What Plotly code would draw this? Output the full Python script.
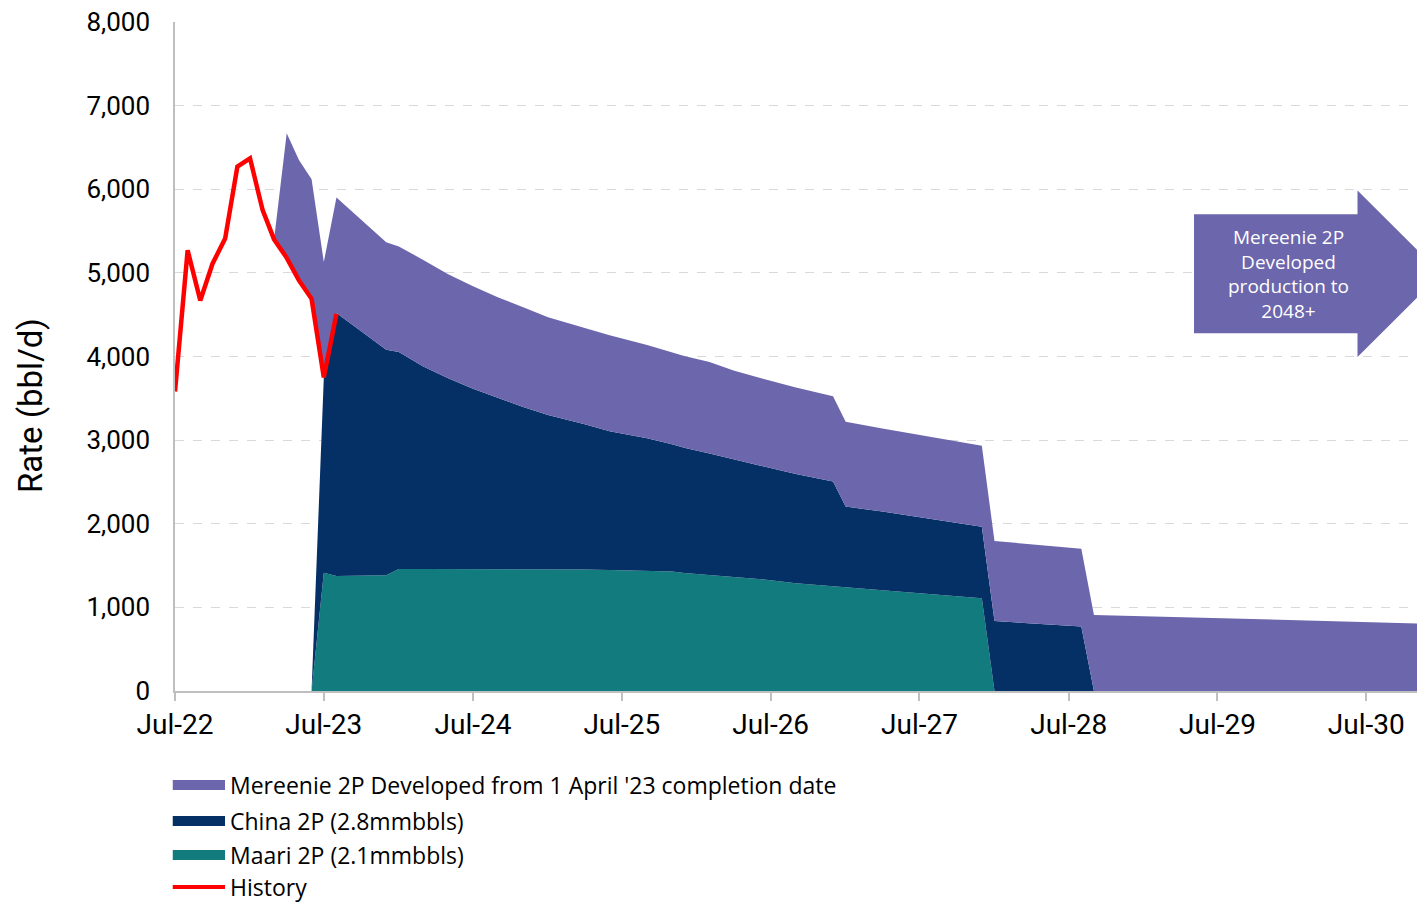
import plotly.graph_objects as go

# ---------------- data ----------------
hist_dates = ["2022-07-01", "2022-08-01", "2022-09-01", "2022-10-01", "2022-11-01",
              "2022-12-01", "2023-01-01", "2023-02-01", "2023-03-01", "2023-04-01",
              "2023-05-01", "2023-06-01", "2023-07-01", "2023-08-01"]
history = [3580, 5270, 4670, 5110, 5410, 6270, 6370, 5750, 5400, 5180, 4910, 4690, 3750, 4510]

fc_dates = ["2023-03-01", "2023-04-01", "2023-05-01", "2023-06-01", "2023-07-01",
            "2023-08-01", "2023-12-01", "2024-01-01", "2024-03-01", "2024-05-01",
            "2024-07-01", "2024-09-01", "2024-11-01", "2025-01-01", "2025-04-01",
            "2025-06-01", "2025-09-01", "2025-11-01", "2025-12-01", "2026-02-01",
            "2026-03-01", "2026-04-01", "2026-06-01", "2026-09-01", "2026-12-01",
            "2027-01-01", "2027-04-01", "2027-12-01", "2028-01-01", "2028-08-01",
            "2028-09-01", "2029-07-01", "2030-12-01"]
maari = [0, 0, 0, 0, 1415, 1375, 1385, 1460, 1460, 1460, 1460, 1460, 1458, 1455, 1452,
         1448, 1440, 1428, 1410, 1385, 1372, 1362, 1340, 1288, 1250, 1240, 1205, 1110,
         0, 0, 0, 0, 0]
china = [0, 0, 0, 0, 2330, 3145, 2695, 2595, 2420, 2280, 2155, 2040, 1937, 1845, 1738,
         1657, 1582, 1524, 1500, 1455, 1438, 1409, 1360, 1307, 1254, 965, 940, 855,
         837, 770, 0, 0, 0]
mereenie = [0, 1490, 1440, 1430, 1385, 1380, 1285, 1260, 1275, 1244, 1225, 1205, 1195,
            1170, 1150, 1150, 1117, 1103, 1095, 1095, 1075, 1061, 1048, 1035, 1021, 1016,
            995, 969, 957, 930, 909, 869, 805]
# Mereenie increment sits on top of the history line before the new fields start
base = history[8:12] + [0] * (len(fc_dates) - 4)

tick_vals = ["2022-07-01", "2023-07-01", "2024-07-01", "2025-07-01", "2026-07-01",
             "2027-07-01", "2028-07-01", "2029-07-01", "2030-07-01"]
tick_text = ["Jul-22", "Jul-23", "Jul-24", "Jul-25", "Jul-26", "Jul-27", "Jul-28",
             "Jul-29", "Jul-30"]

legend_names = ["Mereenie 2P Developed from 1 April '23 completion date",
                "China 2P (2.8mmbbls)", "Maari 2P (2.1mmbbls)", "History"]

PURPLE = "#6C66AC"
NAVY = "#043066"
TEAL = "#127B7D"
RED = "#FF0000"
FONT = "Roboto"
LFONT = "Open Sans"

fig = go.Figure()
fig.add_trace(go.Scatter(x=fc_dates, y=maari, name=legend_names[2], stackgroup="s",
                         mode="lines", line=dict(width=0, color=TEAL), fillcolor=TEAL))
fig.add_trace(go.Scatter(x=fc_dates, y=china, name=legend_names[1], stackgroup="s",
                         mode="lines", line=dict(width=0, color=NAVY), fillcolor=NAVY))
fig.add_trace(go.Scatter(x=fc_dates, y=base, name="base", stackgroup="s", mode="lines",
                         line=dict(width=0, color="rgba(0,0,0,0)"),
                         fillcolor="rgba(0,0,0,0)", hoverinfo="skip"))
fig.add_trace(go.Scatter(x=fc_dates, y=mereenie, name=legend_names[0], stackgroup="s",
                         mode="lines", line=dict(width=0, color=PURPLE), fillcolor=PURPLE))
fig.add_trace(go.Scatter(x=hist_dates, y=history, name=legend_names[3], mode="lines",
                         line=dict(color=RED, width=4.5)))

# arrow callout (paper coordinates)
fig.add_shape(type="path", xref="paper", yref="paper",
              path="M 0.8152,0.7125 L 0.946,0.7125 L 0.946,0.7481 L 1.0128,0.6236 "
                   "L 0.946,0.4993 L 0.946,0.5347 L 0.8152,0.5347 Z",
              fillcolor=PURPLE, line=dict(width=0), layer="above")
fig.add_annotation(xref="paper", yref="paper", x=0.8904, y=0.6236,
                   xanchor="center", yanchor="middle",
                   text="Mereenie 2P<br>Developed<br>production to<br>2048+",
                   showarrow=False, align="center",
                   font=dict(family=LFONT, size=19, color="white"))

# y-axis title
fig.add_annotation(xref="paper", yref="paper", x=-0.116, y=0.426,
                   xanchor="center", yanchor="middle", textangle=-90,
                   text="Rate (bbl/d)", showarrow=False,
                   font=dict(family=FONT, size=33, color="black"))

# legend (drawn below the plot)
leg_colors = [PURPLE, NAVY, TEAL, RED]
leg_y = [-0.1405, -0.1943, -0.2451, -0.2930]
for name, col, yy in zip(legend_names, leg_colors, leg_y):
    if name == "History":
        fig.add_shape(type="line", xref="paper", yref="paper", x0=-0.0018, x1=0.04,
                      y0=yy, y1=yy, line=dict(color=col, width=4))
    else:
        fig.add_shape(type="rect", xref="paper", yref="paper", x0=-0.0018, x1=0.04,
                      y0=yy - 0.0075, y1=yy + 0.0075, fillcolor=col, line=dict(width=0))
    fig.add_annotation(xref="paper", yref="paper", x=0.0432, y=yy, xanchor="left",
                       yanchor="middle", text=name, showarrow=False, borderpad=0,
                       font=dict(family=LFONT, size=23, color="black"))

fig.update_layout(
    width=1417, height=897,
    margin=dict(l=167, r=0, t=14, b=214, autoexpand=False),
    paper_bgcolor="white", plot_bgcolor="white",
    font=dict(family=FONT, color="black"),
    showlegend=False,
)
fig.update_xaxes(range=["2022-07-01", "2030-11-22"], tickvals=tick_vals, ticktext=tick_text,
                 showgrid=False, showline=True, linecolor="#BFBFBF", linewidth=1.5,
                 ticks="outside", ticklen=8, tickcolor="#BFBFBF", tickwidth=1.5,
                 tickfont=dict(family=FONT, size=28), zeroline=False,
                 ticklabeloverflow="allow")
fig.update_yaxes(range=[0, 8000], dtick=1000, tickformat=",d",
                 showgrid=True, gridcolor="#D9D9D9", griddash="dash", gridwidth=1,
                 showline=True, linecolor="#BFBFBF", linewidth=1.5, zeroline=False,
                 ticks="outside", ticklen=18, tickcolor="rgba(0,0,0,0)",
                 tickfont=dict(family=FONT, size=26), ticklabeloverflow="allow")

fig.write_html("out.html")
